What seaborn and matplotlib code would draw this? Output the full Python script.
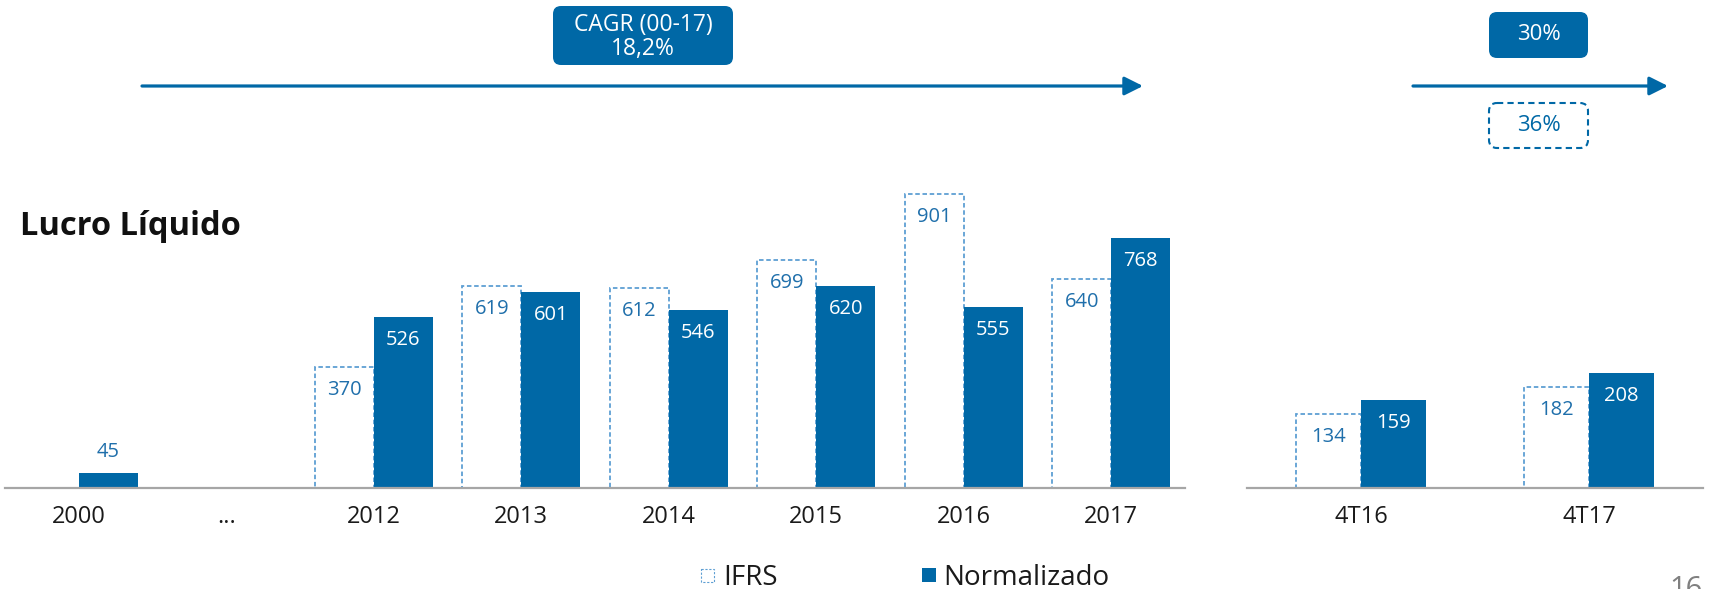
import matplotlib
matplotlib.use('Agg')
import matplotlib.pyplot as plt
import seaborn as sns
import numpy as np
import pandas as pd
from matplotlib.patches import FancyBboxPatch, Rectangle

# dados
anos = ['2000', '...', '2012', '2013', '2014', '2015', '2016', '2017']
ifrs_anual = [np.nan, np.nan, 370, 619, 612, 699, 901, 640]
norm_anual = [45, np.nan, 526, 601, 546, 620, 555, 768]
trimestres = ['4T16', '4T17']
ifrs_tri = [134, 182]
norm_tri = [159, 208]
series = ['IFRS', 'Normalizado']

AZUL = '#0068A6'
AZUL_TXT = '#1f6fab'
AZUL_CLARO = '#5e9fd3'
CINZA = '#a6a6a6'

sns.set_theme(style='white')
plt.rcParams['font.family'] = ['Open Sans', 'DejaVu Sans']

W, H = 1713, 589


def rect_px(x0, x1, y_top, y_bottom):
    # converte pixels (origem no topo) para fracao da figura
    return [x0 / W, (H - y_bottom) / H, (x1 - x0) / W, (y_bottom - y_top) / H]


def long_df(cats, ifrs, norm):
    df = pd.DataFrame({'periodo': cats * 2,
                       'serie': ['IFRS'] * len(cats) + ['Normalizado'] * len(cats),
                       'valor': list(ifrs) + list(norm)})
    return df.dropna()


fig = plt.figure(figsize=(W / 100, H / 100), dpi=100)

# camada de anotacoes em pixels
ax0 = fig.add_axes([0, 0, 1, 1])
ax0.set_xlim(0, W)
ax0.set_ylim(H, 0)
ax0.axis('off')

ax_l = fig.add_axes(rect_px(5, 1185, 188, 488))
ax_r = fig.add_axes(rect_px(1247, 1703, 188, 488))

paineis = [
    (ax_l, long_df(anos, ifrs_anual, norm_anual), anos, 0.8, 300 / 0.326),
    (ax_r, long_df(trimestres, ifrs_tri, norm_tri), trimestres, 0.573, 300 / 0.553),
]

for ax, df, ordem, larg, ymax in paineis:
    sns.barplot(data=df, x='periodo', y='valor', hue='serie', order=ordem,
                hue_order=series, palette={'IFRS': 'white', 'Normalizado': AZUL},
                width=larg, saturation=1, errorbar=None, legend=False, ax=ax)
    ax.set_xlim(-0.5, len(ordem) - 0.5)
    ax.set_ylim(0, ymax)
    ax.set_xlabel('')
    ax.set_ylabel('')
    ax.set_yticks([])
    for s in ['left', 'top', 'right']:
        ax.spines[s].set_visible(False)
    ax.spines['bottom'].set_color(CINZA)
    ax.spines['bottom'].set_linewidth(1.6)
    ax.tick_params(axis='x', length=0, pad=12, labelsize=17, labelcolor='#1a1a1a')
    ax.patch.set_alpha(0)

    for i, cont in enumerate(ax.containers):
        for p in cont:
            h = p.get_height()
            if np.isnan(h):
                continue
            if i == 0:
                p.set_facecolor('white')
                p.set_edgecolor(AZUL_CLARO)
                p.set_linestyle((0, (2.5, 1.5)))
                p.set_linewidth(1.3)
                cor = AZUL_TXT
            else:
                p.set_facecolor(AZUL)
                p.set_edgecolor(AZUL)
                p.set_linewidth(0)
                cor = 'white'
            px = h / ymax * 300
            if px < 40:
                dy, cor = 21, AZUL_TXT
            else:
                dy = -23
            ax.annotate(f'{h:.0f}', (p.get_x() + p.get_width() / 2, h),
                        xytext=(0, dy * 0.72), textcoords='offset points',
                        ha='center', va='center', fontsize=14.5, color=cor)

# titulo
ax0.text(20, 235, 'Lucro Líquido', fontsize=23.5, fontweight='bold',
         color='#111111', ha='left', va='baseline')

# setas
for x0, x1 in [(142, 1143), (1413, 1668)]:
    ax0.annotate('', xy=(x1, 86), xytext=(x0, 86),
                 arrowprops=dict(arrowstyle='-|>', color=AZUL, lw=2.3,
                                 mutation_scale=28, shrinkA=0, shrinkB=0))

# caixas
ax0.add_patch(FancyBboxPatch((553, 6), 180, 59, boxstyle='round,pad=0,rounding_size=8',
                             facecolor=AZUL, edgecolor='none'))
ax0.text(643, 37, 'CAGR (00-17)\n18,2%', color='white', fontsize=16.5,
         ha='center', va='center', linespacing=1.05)

ax0.add_patch(FancyBboxPatch((1489, 12), 99, 46, boxstyle='round,pad=0,rounding_size=8',
                             facecolor=AZUL, edgecolor='none'))
ax0.text(1538.5, 35, '30%', color='white', fontsize=16, ha='center', va='center')

ax0.add_patch(FancyBboxPatch((1489, 103), 99, 45, boxstyle='round,pad=0,rounding_size=8',
                             facecolor='white', edgecolor=AZUL, linewidth=1.5,
                             linestyle=(0, (3, 2))))
ax0.text(1538.5, 125.5, '36%', color=AZUL, fontsize=16, ha='center', va='center')

# legenda
ax0.add_patch(Rectangle((701, 569), 13, 13, facecolor='white', edgecolor=AZUL_CLARO,
                        linewidth=0.8, linestyle=(0, (2, 1.5))))
ax0.text(723, 585, 'IFRS', fontsize=20, color='#1a1a1a', ha='left', va='baseline')
ax0.add_patch(Rectangle((922, 568), 14, 14, facecolor=AZUL, edgecolor='none'))
ax0.text(943, 585, 'Normalizado', fontsize=20, color='#1a1a1a', ha='left', va='baseline')

# numero da pagina (cortado na borda, como no original)
ax0.text(1669, 597, '16', fontsize=21, color='#808080', ha='left', va='baseline')

fig.savefig('out.png', dpi=100, facecolor='white')
plt.close(fig)
